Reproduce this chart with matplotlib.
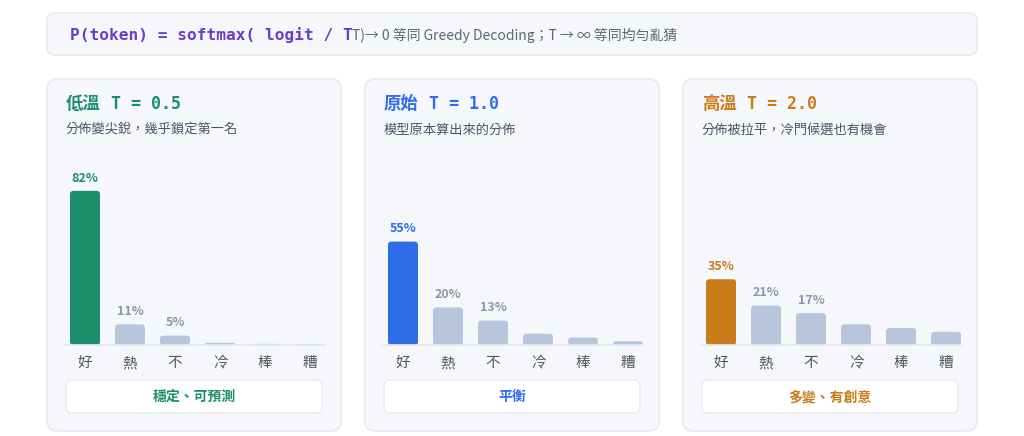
import matplotlib
matplotlib.use('Agg')
import matplotlib.pyplot as plt
from matplotlib.patches import FancyBboxPatch

# data
tokens = ['好', '熱', '不', '冷', '棒', '糟']
probs_low = [82, 11, 5, 1.2, 0.6, 0.4]
probs_mid = [55, 20, 13, 6, 4, 2]
probs_high = [35, 21, 17, 11, 9, 7]
panel_names = ['低溫', '原始', '高溫']
temp_labels = ['T = 0.5', 'T = 1.0', 'T = 2.0']
subtitles = ['分佈變尖銳，幾乎鎖定第一名', '模型原本算出來的分佈', '分佈被拉平，冷門候選也有機會']
badges = ['穩定、可預測', '平衡', '多變、有創意']
formula = 'P(token) = softmax( logit / T'
formula_note = 'T)→ 0 等同 Greedy Decoding；T → ∞ 等同均勻亂猜'

accents = ['#1b8f69', '#2e6de8', '#c87d1a']
gray_bar = '#b8c6dc'
gray_lbl = '#8b97ab'
panel_bg = '#f5f7fb'
panel_edge = '#e2e7ef'

CJK = ['Noto Sans CJK TC', 'DejaVu Sans']
MONO = ['DejaVu Sans Mono', 'Noto Sans CJK TC']

W, H = 1024, 436
fig = plt.figure(figsize=(W / 100, H / 100), dpi=100)
fig.patch.set_facecolor('white')

bg = fig.add_axes([0, 0, 1, 1])
bg.set_xlim(0, W)
bg.set_ylim(H, 0)
bg.axis('off')


def box(x0, y0, x1, y1, r, fc, ec, lw=1.0):
    bg.add_patch(FancyBboxPatch((x0 + r, y0 + r), x1 - x0 - 2 * r, y1 - y0 - 2 * r,
                                boxstyle=f'round,pad={r}', fc=fc, ec=ec, lw=lw))


# banner
box(47, 13, 977, 55, 8, panel_bg, panel_edge)
bg.text(70, 35, formula, family=MONO, fontsize=11.6, fontweight='bold',
        color='#6a3fc8', va='center', ha='left')
bg.text(352, 35, formula_note, family=CJK, fontsize=10, color='#5c6677',
        va='center', ha='left')

step = 318
px_x, px_y = 45.0, 1.88
r_px = 3.5

for i, probs in enumerate([probs_low, probs_mid, probs_high]):
    off = i * step
    acc = accents[i]
    box(47 + off, 79, 341 + off, 431, 10, panel_bg, panel_edge)
    bg.text(66 + off, 104, panel_names[i], family=CJK, fontsize=12.5,
            fontweight='bold', color=acc, va='center', ha='left')
    bg.text(111 + off, 104, temp_labels[i], family=MONO, fontsize=12,
            fontweight='bold', color=acc, va='center', ha='left')
    bg.text(66 + off, 130, subtitles[i], family=CJK, fontsize=9.5,
            color='#4a5466', va='center', ha='left')

    # badge
    box(66 + off, 380, 322 + off, 413, 6, 'white', '#e6eaf1')
    bg.text(194 + off, 397, badges[i], family=CJK, fontsize=10,
            fontweight='bold', color=acc, va='center', ha='center')

    # bar axes
    left, right, base, top = 65 + off, 325 + off, 345, 157
    ax = fig.add_axes([left / W, (H - base) / H, (right - left) / W, (base - top) / H])
    ax.set_facecolor('none')
    x = list(range(len(tokens)))
    colors = [acc] + [gray_bar] * (len(tokens) - 1)
    bars = ax.bar(x, probs, width=30 / px_x, color=colors)
    for b, c in zip(bars, colors):
        bx, by, bw, bh = b.get_x(), b.get_y(), b.get_width(), b.get_height()
        rx = r_px / px_x
        ry = min(r_px / px_y, bh / 2)
        ax.add_patch(FancyBboxPatch((bx, by), bw, bh,
                                    boxstyle=f'round,pad=0,rounding_size={rx}',
                                    mutation_aspect=ry / rx, fc=c, ec='none'))
        b.remove()
    for j in range(3):
        ax.annotate(f'{probs[j]:.0f}%', (x[j], probs[j]), xytext=(0, 4.5),
                    textcoords='offset points', ha='center', va='bottom',
                    family=CJK, fontsize=9, fontweight='bold',
                    color=acc if j == 0 else gray_lbl)
    ax.set_xlim(-20 / px_x, (right - left - 20) / px_x)
    ax.set_ylim(0, 100)
    ax.set_xticks(x)
    ax.set_xticklabels(tokens, family=CJK, fontsize=10.5, color='#4f5563')
    ax.tick_params(axis='x', length=0, pad=8)
    ax.set_yticks([])
    for s in ['top', 'left', 'right']:
        ax.spines[s].set_visible(False)
    ax.spines['bottom'].set_color('#e3e8f0')
    ax.spines['bottom'].set_linewidth(1.2)

fig.savefig('out.png', dpi=100)
